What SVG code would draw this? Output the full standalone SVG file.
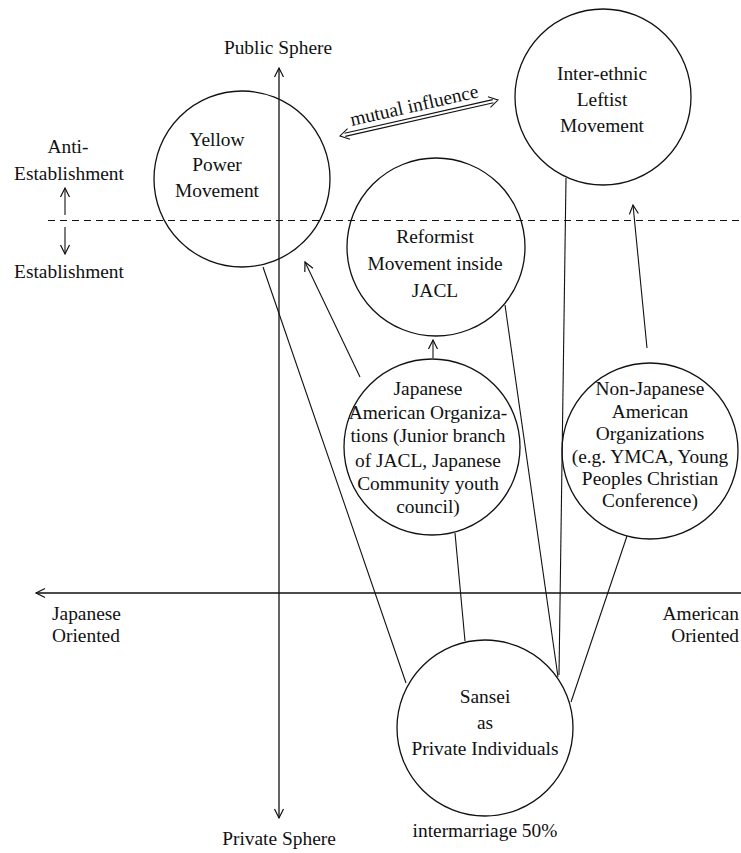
<svg xmlns="http://www.w3.org/2000/svg" width="741" height="853" viewBox="0 0 741 853">
<style>
text{font-family:"Liberation Serif","Times New Roman",serif;font-size:19.4px;fill:#111;text-anchor:middle}
.node circle{fill:none;stroke:#111;stroke-width:1.3}
.ln{stroke:#111;stroke-width:1.1;fill:none}
.ax{stroke:#111;stroke-width:1.3;fill:none}
</style>
<defs>
<marker id="arr" markerUnits="userSpaceOnUse" markerWidth="14" markerHeight="14" viewBox="0 0 14 14" refX="12" refY="7" orient="auto-start-reverse">
<path d="M3,2.5 L12,7 L3,11.5" fill="none" stroke="#111" stroke-width="1.2"/>
</marker>
</defs>
<rect width="741" height="853" fill="#fff"/>
<g id="axes">
<line class="ax" x1="279" y1="818" x2="279" y2="68" marker-start="url(#arr)" marker-end="url(#arr)"/>
<line class="ax" x1="741" y1="593" x2="36" y2="593" marker-end="url(#arr)"/>
<line class="ln" x1="48" y1="220.5" x2="741" y2="220.5" stroke-dasharray="7 5"/>
<line class="ln" x1="65" y1="215" x2="65" y2="188" marker-end="url(#arr)"/>
<line class="ln" x1="65" y1="227" x2="65" y2="254" marker-end="url(#arr)"/>
<text x="278" y="54">Public Sphere</text>
<text x="279" y="845">Private Sphere</text>
<text x="68" y="153">Anti-</text>
<text x="69" y="180">Establishment</text>
<text x="69" y="278">Establishment</text>
<text x="52" y="620" style="text-anchor:start">Japanese</text>
<text x="52" y="642" style="text-anchor:start">Oriented</text>
<text x="739" y="620" style="text-anchor:end">American</text>
<text x="739" y="642" style="text-anchor:end">Oriented</text>
</g>
<g id="connectors">
<line class="ln" x1="263" y1="267" x2="406" y2="683"/>
<line class="ln" x1="455" y1="533" x2="465" y2="641"/>
<line class="ln" x1="505" y1="305" x2="558" y2="677"/>
<line class="ln" x1="566" y1="178" x2="559" y2="675"/>
<line class="ln" x1="627" y1="536" x2="571" y2="702"/>
<line class="ln" x1="360" y1="377" x2="305" y2="262" marker-end="url(#arr)"/>
<line class="ln" x1="647" y1="348" x2="633" y2="205" marker-end="url(#arr)"/>
<line class="ln" x1="433" y1="358" x2="433" y2="340" marker-end="url(#arr)"/>
<g id="mutual" transform="translate(419,118) rotate(-12.8)">
<line class="ln" x1="-76" y1="-1.6" x2="76" y2="-1.6"/>
<line class="ln" x1="-76" y1="1.6" x2="76" y2="1.6"/>
<path class="ln" d="M-72,-5.5 L-81,0 L-72,5.5 M72,-5.5 L81,0 L72,5.5"/>
<text x="-2" y="-7">mutual influence</text>
</g>
</g>
<g id="yellow" class="node">
<circle cx="242" cy="179" r="88"/>
<text x="217" y="146">Yellow</text>
<text x="217" y="171">Power</text>
<text x="217" y="197">Movement</text>
</g>
<g id="interethnic" class="node">
<circle cx="603" cy="97" r="88"/>
<text x="602" y="80">Inter-ethnic</text>
<text x="602" y="106">Leftist</text>
<text x="602" y="132">Movement</text>
</g>
<g id="reformist" class="node">
<circle cx="436" cy="247" r="89"/>
<text x="435" y="243">Reformist</text>
<text x="435" y="270">Movement inside</text>
<text x="435" y="297">JACL</text>
</g>
<g id="japanese-american" class="node">
<circle cx="432" cy="447" r="88"/>
<text x="428" y="395">Japanese</text>
<text x="428" y="419">American Organiza-</text>
<text x="428" y="442">tions (Junior branch</text>
<text x="428" y="467">of JACL, Japanese</text>
<text x="428" y="490">Community youth</text>
<text x="428" y="513">council)</text>
</g>
<g id="non-japanese" class="node">
<circle cx="650" cy="451" r="88"/>
<text x="650" y="395">Non-Japanese</text>
<text x="650" y="418">American</text>
<text x="650" y="440">Organizations</text>
<text x="650" y="463">(e.g. YMCA, Young</text>
<text x="650" y="485">Peoples Christian</text>
<text x="650" y="507">Conference)</text>
</g>
<g id="sansei" class="node">
<circle cx="485" cy="728" r="88"/>
<text x="485" y="703">Sansei</text>
<text x="485" y="729">as</text>
<text x="485" y="755">Private Individuals</text>
<text x="485" y="837">intermarriage 50%</text>
</g>
</svg>
